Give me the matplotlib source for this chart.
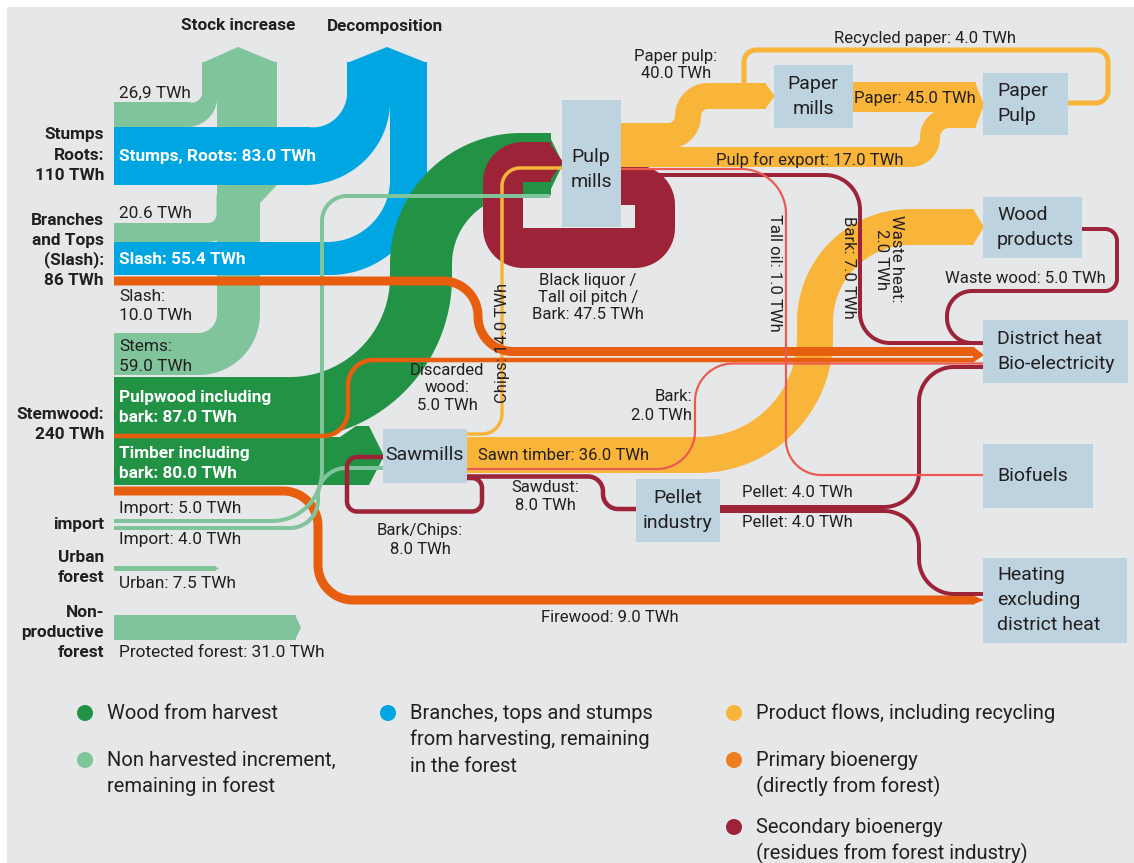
import numpy as np
import matplotlib
matplotlib.use("Agg")
import matplotlib.pyplot as plt
from matplotlib.patches import Polygon, Rectangle, Circle

plt.rcParams['font.family'] = ['Roboto', 'DejaVu Sans']

# ------------------------------------------------------------------ data
SOURCE_NAMES = ["Stumps\nRoots:", "Branches\nand Tops\n(Slash):", "Stemwood:",
                "import", "Urban\nforest", "Non-\nproductive\nforest"]
SOURCE_TOTALS = [110, 86, 240, None, None, None]
SINK_TITLES = ["Stock increase", "Decomposition"]
NODE_NAMES = ["Pulp\nmills", "Paper\nmills", "Paper\nPulp", "Sawmills",
              "Pellet\nindustry", "Wood\nproducts", "District heat\nBio-electricity",
              "Biofuels", "Heating\nexcluding\ndistrict heat"]

FLOW_KEYS = ["stock_stumps", "stumps", "stock_slash", "slash", "slash_energy",
             "stems", "pulpwood", "timber", "import_pulp", "import_saw",
             "urban", "protected", "paper_pulp", "pulp_export", "paper",
             "recycled", "black_liquor", "chips", "sawn_timber", "discarded",
             "bark_chips", "sawdust", "pellet_dh", "pellet_heat", "firewood",
             "tall_oil", "bark_pulp", "waste_heat", "bark_saw", "waste_wood"]
FLOW_CAPTIONS = ["", "Stumps, Roots", "", "Slash", "Slash",
                 "Stems", "Pulpwood including\nbark", "Timber including\nbark", "Import", "Import",
                 "Urban", "Protected forest", "Paper pulp", "Pulp for export", "Paper",
                 "Recycled paper", "Black liquor /\nTall oil pitch /\nBark", "Chips", "Sawn timber", "Discarded\nwood",
                 "Bark/Chips", "Sawdust", "Pellet", "Pellet", "Firewood",
                 "Tall oil", "Bark", "Waste heat", "Bark", "Waste wood"]
FLOW_VALUES = [26.9, 83.0, 20.6, 55.4, 10.0,
               59.0, 87.0, 80.0, 5.0, 4.0,
               7.5, 31.0, 40.0, 17.0, 45.0,
               4.0, 47.5, 14.0, 36.0, 5.0,
               8.0, 8.0, 4.0, 4.0, 9.0,
               1.0, 7.0, 2.0, 2.0, 5.0]

LEGEND_LABELS = ["Wood from harvest", "Non harvested increment,\nremaining in forest",
                 "Branches, tops and stumps\nfrom harvesting, remaining\nin the forest",
                 "Product flows, including recycling", "Primary bioenergy\n(directly from forest)",
                 "Secondary bioenergy\n(residues from forest industry)"]

# ------------------------------------------------------------------ style
LGREEN = '#80c49b'
DGREEN = '#229245'
BLUE = '#00a6e2'
ORANGE = '#e85e0f'
YELLOW = '#f9b53a'
MAROON = '#9c2338'
LRED = '#ea5a4f'
BOX = '#bdd3df'
PANEL = '#e6e7e8'
TXT = '#231f20'
LEG_ORANGE = '#ef7d22'
LEGEND_COLORS = [DGREEN, LGREEN, BLUE, YELLOW, LEG_ORANGE, MAROON]

fig = plt.figure(figsize=(11.34, 8.63), dpi=100)
ax = fig.add_axes([0, 0, 1, 1])
ax.set_xlim(0, 1134)
ax.set_ylim(863, 0)
ax.axis('off')
ax.add_patch(Rectangle((7, 7), 1127, 856, facecolor=PANEL, edgecolor='none'))


def build_path(pts, radii):
    pts = [np.array(p, float) for p in pts]
    n = len(pts)
    if np.isscalar(radii):
        radii = [radii] * max(n - 2, 0)
    P, F = [], []
    cur = pts[0]
    seen_corner = 0.0
    for i in range(1, n - 1):
        A, Pc, B = pts[i - 1], pts[i], pts[i + 1]
        d1 = (Pc - A) / np.linalg.norm(Pc - A)
        d2 = (B - Pc) / np.linalg.norm(B - Pc)
        r = radii[i - 1]
        T1 = Pc - d1 * r
        T2 = Pc + d2 * r
        C = Pc + (d2 - d1) * r
        L = np.linalg.norm(T1 - cur)
        if L > 0.3:
            m = max(int(L / 2), 1)
            t = np.linspace(0, 1, m, endpoint=False)
            P.extend(list(cur + np.outer(t, T1 - cur)))
            F.extend([seen_corner] * m)
        a1 = np.arctan2(T1[1] - C[1], T1[0] - C[0])
        a2 = np.arctan2(T2[1] - C[1], T2[0] - C[0])
        da = (a2 - a1 + np.pi) % (2 * np.pi) - np.pi
        m = max(int(abs(da) * r / 1.5), 10)
        t = np.linspace(0, 1, m, endpoint=False)
        a = a1 + da * t
        P.extend(list(C + r * np.column_stack([np.cos(a), np.sin(a)])))
        F.extend(list(t) if i == 1 else [1.0] * m)
        seen_corner = 1.0
        cur = T2
    end = pts[-1]
    L = np.linalg.norm(end - cur)
    m = max(int(L / 2), 1)
    t = np.linspace(0, 1, m + 1)
    P.extend(list(cur + np.outer(t, end - cur)))
    F.extend([seen_corner] * (m + 1))
    return np.array(P), np.array(F)


def ribbon(pts, w, color, r=20, z=2):
    P, F = build_path(pts, r)
    if np.isscalar(w):
        W = np.full(len(P), float(w))
    else:
        W = w[0] + (w[1] - w[0]) * F
    T = np.gradient(P, axis=0)
    T /= np.maximum(np.linalg.norm(T, axis=1)[:, None], 1e-9)
    N = np.column_stack([-T[:, 1], T[:, 0]])
    left = P + N * W[:, None] / 2
    right = P - N * W[:, None] / 2
    poly = np.vstack([left, right[::-1]])
    ax.add_patch(Polygon(poly, closed=True, facecolor=color, edgecolor='none',
                         lw=0, zorder=z))


def poly(points, color, z=2):
    ax.add_patch(Polygon(points, closed=True, facecolor=color, edgecolor='none',
                         lw=0, zorder=z))


# geometry of every flow (pixel layout of the schematic)
GEOM = {
    'stems':        dict(pts=[(114, 354), (238.5, 354), (238.5, 62)], w=(42, 43), r=40, c=LGREEN, z=2),
    'stock_stumps': dict(pts=[(114, 114.5), (209.5, 114.5), (209.5, 62)], w=(25, 15), r=20, c=LGREEN, z=2),
    'stock_slash':  dict(pts=[(114, 232.5), (226, 232.5), (226, 195)], w=19, r=18, c=LGREEN, z=2),
    'stumps':       dict(pts=[(114, 156), (368.5, 156), (368.5, 62)], w=(58, 43), r=60, c=BLUE, z=3),
    'slash':        dict(pts=[(114, 258.5), (408.5, 258.5), (408.5, 62)], w=(33, 37), r=80, c=BLUE, z=3),
    'pulpwood':     dict(pts=[(114, 408), (421, 408), (421, 164), (551, 164)], w=62, r=[131, 100], c=DGREEN, z=4),
    'timber':       dict(pts=[(114, 461), (369, 461)], w=48, r=0, c=DGREEN, z=4),
    'black_liquor': dict(pts=[(621, 185), (655, 185), (655, 248), (503, 248), (503, 162), (551, 162)],
                         w=40, r=20, c=MAROON, z=5),
    'paper_pulp':   dict(pts=[(619, 136), (688, 136), (688, 96), (766, 96)], w=26, r=20, c=YELLOW, z=6),
    'pulp_export':  dict(pts=[(619, 157), (930, 157), (930, 118), (976, 118)], w=20, r=19, c=YELLOW, z=6),
    'paper':        dict(pts=[(852, 97), (976, 97)], w=30, r=0, c=YELLOW, z=6),
    'recycled':     dict(pts=[(1066, 103), (1108, 103), (1108, 50), (744, 50), (744, 88)], w=5, r=12, c=YELLOW, z=6),
    'sawn_timber':  dict(pts=[(466, 455), (815, 455), (815, 227), (974, 227)], w=36, r=[117, 95], c=YELLOW, z=6),
    'firewood':     dict(pts=[(114, 491), (318, 491), (318, 600), (974, 600)], w=9, r=35, c=ORANGE, z=7),
    'chips':        dict(pts=[(466, 434), (502, 434), (502, 168), (562, 168)], w=3.5, r=[20, 18], c=YELLOW, z=7),
    'import_pulp':  dict(pts=[(114, 521), (322, 521), (322, 196), (550, 196)], w=4, r=[50, 25], c=LGREEN, z=8),
    'import_saw':   dict(pts=[(114, 528), (318, 528), (318, 468), (383, 468)], w=4, r=28, c=LGREEN, z=8),
    'slash_energy': dict(pts=[(114, 281), (478, 281), (478, 351.5), (974, 351.5)], w=9, r=35, c=ORANGE, z=9),
    'discarded':    dict(pts=[(114, 436), (348, 436), (348, 360), (974, 360)], w=4.5, r=25, c=ORANGE, z=9),
    'bark_chips':   dict(pts=[(466, 478), (482, 478), (482, 511.5), (347, 511.5), (347, 457), (384, 457)],
                         w=4.5, r=10, c=MAROON, z=10),
    'sawdust':      dict(pts=[(466, 476.5), (603, 476.5), (603, 509), (637, 509)], w=4.5, r=15, c=MAROON, z=10),
    'pellet_dh':    dict(pts=[(719, 507), (919, 507), (919, 367), (984, 367)], w=4, r=35, c=MAROON, z=10),
    'pellet_heat':  dict(pts=[(719, 511), (919, 511), (919, 594), (984, 594)], w=4, r=35, c=MAROON, z=10),
    'bark_pulp':    dict(pts=[(620, 175), (860, 175), (860, 343), (984, 343)], w=4, r=[35, 30], c=MAROON, z=10),
    'waste_wood':   dict(pts=[(1081, 229), (1117, 229), (1117, 291), (947, 291), (947, 343), (984, 343)],
                         w=4, r=[12, 12, 25, 25], c=MAROON, z=10),
    'tall_oil':     dict(pts=[(620, 169), (786, 169), (786, 475), (984, 475)], w=2.2, r=[45, 35], c=LRED, z=11),
    'bark_saw':     dict(pts=[(466, 469), (695, 469), (695, 363.5), (984, 363.5)], w=2.2, r=38, c=LRED, z=11),
    'urban':        dict(pts=[(114, 568.5), (216, 568.5)], w=5, r=0, c=LGREEN, z=8),
    'protected':    dict(pts=[(114, 627.5), (296, 627.5)], w=25, r=0, c=LGREEN, z=8),
}

# stock increase column + arrow heads
poly([(217, 203), (260, 203), (277, 185), (277, 62), (217, 62)], LGREEN, z=2)
poly([(202, 67), (202, 63), (238, 47), (277, 63), (277, 67)], LGREEN, z=2)
poly([(347, 67), (347, 63), (387, 47), (427, 63), (427, 67)], BLUE, z=3)

for key in FLOW_KEYS:
    if key in GEOM:
        g = GEOM[key]
        ribbon(g['pts'], g['w'], g['c'], r=g['r'], z=g['z'])

# arrow heads
poly([(548, 133), (563, 164), (548, 195)], DGREEN, z=4)
poly([(340, 437), (356, 426), (369, 426), (384, 456), (369, 485), (340, 485)], DGREEN, z=4)
poly([(549, 142), (563, 162), (549, 182)], MAROON, z=5)
poly([(765, 83), (775, 96), (765, 109)], YELLOW, z=6)
poly([(975, 82), (984, 105), (975, 128)], YELLOW, z=6)
poly([(973, 209), (984, 227), (973, 245)], YELLOW, z=6)
poly([(973, 346.5), (984, 355), (973, 362.5)], ORANGE, z=9)
poly([(973, 595.5), (984, 600), (973, 604.5)], ORANGE, z=7)
poly([(214, 566), (219, 568.5), (214, 571)], LGREEN, z=8)
poly([(295, 615), (301, 627.5), (295, 640)], LGREEN, z=8)

# process boxes
BOXES = [(562, 100, 59, 127), (774, 65, 79, 63), (983, 73, 85, 62), (383, 429, 84, 54),
         (636, 479, 84, 63), (983, 197, 99, 61), (983, 320, 145, 63), (983, 444, 110, 64),
         (983, 558, 144, 85)]
BOX_TEXT = [(591, 157, 'center'), (813, 84, 'center'), (997, 91, 'left'), (425, 455, 'center'),
            (678, 498, 'center'), (997, 215, 'left'), (997, 339, 'left'), (997, 476, 'left'),
            (997, 575, 'left')]
for name, (bx, by, bw, bh), (tx, ty, ha) in zip(NODE_NAMES, BOXES, BOX_TEXT):
    ax.add_patch(Rectangle((bx, by), bw, bh, facecolor=BOX, edgecolor='none', zorder=20))
    for i, line in enumerate(name.split('\n')):
        ax.text(tx, ty + i * 25, line, ha=ha, va='center', fontsize=14, color=TXT, zorder=30)


def lines_text(x, y0, text, dy, **kw):
    for i, line in enumerate(text.split('\n')):
        ax.text(x, y0 + i * dy, line, va='center', zorder=30, **kw)


# titles
ax.text(238, 26, SINK_TITLES[0], ha='center', va='center', fontsize=12.3,
        fontweight='bold', color=TXT, zorder=30)
ax.text(385, 26, SINK_TITLES[1], ha='center', va='center', fontsize=12.3,
        fontweight='bold', color=TXT, zorder=30)

# source labels
SRC_Y = [135, 220, 414, 524, 557, 612]
for name, tot, y in zip(SOURCE_NAMES, SOURCE_TOTALS, SRC_Y):
    s = name if tot is None else f"{name}\n{tot} TWh"
    lines_text(104, y, s, 20, ha='right', fontsize=12.4, fontweight='bold', color=TXT)

# flow labels
LABELS = {
    'stock_stumps': dict(x=119, y=93, sep=''),
    'stumps':       dict(x=119, y=157, sep=': ', color='white', weight='bold'),
    'stock_slash':  dict(x=119, y=213, sep=''),
    'slash':        dict(x=119, y=259, sep=': ', color='white', weight='bold'),
    'slash_energy': dict(x=119, y=296, sep=':\n', dy=19),
    'stems':        dict(x=119, y=346, sep=':\n', dy=20),
    'pulpwood':     dict(x=119, y=397, sep=': ', dy=20, color='white', weight='bold'),
    'timber':       dict(x=119, y=453, sep=': ', dy=20, color='white', weight='bold'),
    'import_pulp':  dict(x=119, y=508, sep=': '),
    'import_saw':   dict(x=119, y=539, sep=': '),
    'urban':        dict(x=119, y=583, sep=': '),
    'protected':    dict(x=119, y=652, sep=': '),
    'paper_pulp':   dict(x=676, y=57, sep=':\n', ha='center', dy=17, fs=12),
    'pulp_export':  dict(x=810, y=160, sep=': ', ha='center', fs=12),
    'paper':        dict(x=915, y=99, sep=': ', ha='center', fs=12),
    'recycled':     dict(x=925, y=38, sep=': ', ha='center', fs=12),
    'black_liquor': dict(x=588, y=280, sep=': ', ha='center', dy=17, fs=12),
    'chips':        dict(x=503, y=343, sep=': ', ha='center', fs=12, rot=90),
    'sawn_timber':  dict(x=478, y=455, sep=': ', fs=12),
    'discarded':    dict(x=447, y=370, sep=':\n', ha='center', dy=17.5, fs=12),
    'bark_chips':   dict(x=420, y=530, sep=':\n', ha='center', dy=19, fs=12),
    'sawdust':      dict(x=545, y=487, sep=':\n', ha='center', dy=18, fs=12),
    'pellet_dh':    dict(x=742, y=492, sep=': ', fs=12),
    'pellet_heat':  dict(x=742, y=522, sep=': ', fs=12),
    'firewood':     dict(x=610, y=617, sep=': ', ha='center', fs=12),
    'tall_oil':     dict(x=774, y=273, sep=': ', ha='center', fs=12, rot=-90),
    'bark_pulp':    dict(x=848, y=267, sep=': ', ha='center', fs=12, rot=-90),
    'waste_heat':   dict(x=889, y=259, sep=':\n', ha='center', fs=12, rot=-90),
    'bark_saw':     dict(x=692, y=396, sep=':\n', ha='right', dy=19, fs=12),
    'waste_wood':   dict(x=1025, y=278, sep=': ', ha='center', fs=12),
}
for key, cap, val in zip(FLOW_KEYS, FLOW_CAPTIONS, FLOW_VALUES):
    L = LABELS[key]
    v = f"{val:.1f}"
    if key == 'stock_stumps':
        v = v.replace('.', ',')
    s = f"{v} TWh" if cap == "" else f"{cap}{L['sep']}{v} TWh"
    kw = dict(ha=L.get('ha', 'left'), fontsize=L.get('fs', 12.4),
              color=L.get('color', TXT), fontweight=L.get('weight', 'normal'))
    if 'rot' in L:
        ax.text(L['x'], L['y'], s, rotation=L['rot'], va='center', multialignment='center',
                linespacing=1.0, zorder=30, **kw)
    else:
        lines_text(L['x'], L['y'], s, L.get('dy', 20), **kw)

# legend
LEG_POS = [(85, 713), (85, 760), (388, 713), (734, 713), (734, 760), (734, 827)]
for lab, col, (lx, ly) in zip(LEGEND_LABELS, LEGEND_COLORS, LEG_POS):
    ax.add_patch(Circle((lx, ly), 8, facecolor=col, edgecolor='none', zorder=30))
    lines_text(lx + 22, ly, lab, 26.5, ha='left', fontsize=14.5, color=TXT)

fig.savefig('out.png', dpi=100)
